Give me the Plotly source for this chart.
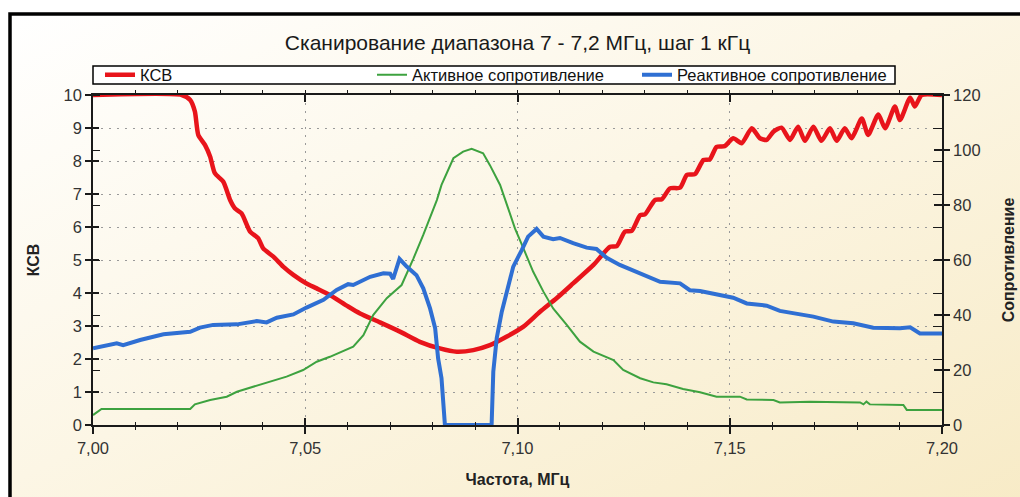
import base64
import plotly.graph_objects as go

# ---------------- data ----------------
F_KSV = [7.000, 7.0209, 7.0229, 7.0240, 7.0248, 7.0264, 7.0276, 7.0287, 7.0307, 7.0323,
         7.0334, 7.0350, 7.0370, 7.0389, 7.0401, 7.0425, 7.0448, 7.0472, 7.0503, 7.0527,
         7.0558, 7.0601, 7.0629, 7.0676, 7.0723, 7.0770, 7.0817, 7.0857, 7.0896, 7.0935,
         7.0975, 7.1014, 7.1053, 7.1092, 7.1131, 7.1179, 7.1218, 7.1234, 7.1253, 7.1269,
         7.1289, 7.1300, 7.1324, 7.1340, 7.1359, 7.1383, 7.1399, 7.1418, 7.1438, 7.1453,
         7.1469, 7.1488, 7.1508, 7.1528, 7.1552, 7.1571, 7.1587, 7.1603, 7.1622, 7.1642,
         7.1661, 7.1677, 7.1697, 7.1716, 7.1736, 7.1752, 7.1771, 7.1787, 7.1811, 7.1826,
         7.1850, 7.1866, 7.1889, 7.1901, 7.1925, 7.1936, 7.1952, 7.2000]
KSV = [10, 10, 9.85, 9.5, 8.79, 8.48, 8.13, 7.63, 7.37, 6.82,
       6.57, 6.41, 5.86, 5.66, 5.35, 5.10, 4.80, 4.55, 4.29, 4.14,
       3.94, 3.59, 3.38, 3.11, 2.83, 2.52, 2.32, 2.22, 2.27, 2.42,
       2.68, 2.98, 3.43, 3.84, 4.29, 4.85, 5.40, 5.42, 5.86, 5.88,
       6.36, 6.38, 6.82, 6.84, 7.17, 7.19, 7.58, 7.60, 8.03, 8.05,
       8.43, 8.45, 8.69, 8.54, 8.99, 8.69, 8.64, 8.89, 9.01, 8.64,
       9.04, 8.61, 9.04, 8.61, 8.99, 8.61, 8.99, 8.69, 9.29, 8.79,
       9.41, 8.99, 9.65, 9.24, 9.92, 9.65, 10, 10]

F_ACT = [7.000, 7.002, 7.0229, 7.024, 7.0276, 7.0315, 7.0339, 7.0378, 7.0417, 7.0456,
         7.0495, 7.0527, 7.0558, 7.0601, 7.0613, 7.0637, 7.066, 7.0692, 7.0727, 7.0755,
         7.0778, 7.081, 7.0821, 7.0849, 7.0872, 7.0892, 7.0919, 7.0935, 7.0959, 7.0978,
         7.0994, 7.1014, 7.1037, 7.1061, 7.1084, 7.1116, 7.1147, 7.1179, 7.121, 7.1226,
         7.1249, 7.1289, 7.132, 7.1351, 7.139, 7.143, 7.1469, 7.1524, 7.154, 7.1603,
         7.1618, 7.1689, 7.1807, 7.1815, 7.1822, 7.183, 7.1909, 7.1917, 7.200]
R_ACT = [3.6, 5.8, 5.8, 7.5, 9.1, 10.3, 12.1, 13.9, 15.8, 17.6,
         20.0, 23.0, 24.8, 27.6, 28.5, 32.7, 40.0, 46.1, 50.9, 60.6,
         69.1, 81.8, 87.3, 97.0, 99.4, 100.4, 98.8, 94.5, 87.3, 78.8,
         71.5, 64.2, 55.7, 48.5, 42.4, 36.4, 30.3, 26.7, 24.8, 23.6,
         20.0, 17.0, 15.5, 14.8, 13.1, 11.9, 10.3, 10.3, 9.3, 9.1,
         8.2, 8.5, 8.2, 7.5, 8.5, 7.5, 7.3, 5.5, 5.5]

F_REA = [7.000, 7.0056, 7.0071, 7.0111, 7.0166, 7.0229, 7.0252, 7.0283, 7.0339, 7.0386,
         7.0409, 7.0433, 7.0472, 7.0503, 7.0543, 7.0574, 7.0601, 7.0613, 7.0653, 7.0684,
         7.0700, 7.0707, 7.0722, 7.0739, 7.0762, 7.0778, 7.0794, 7.0806, 7.0813, 7.0821,
         7.0829, 7.0939, 7.0943, 7.0951, 7.0963, 7.0975, 7.099, 7.101, 7.1025, 7.1045,
         7.1061, 7.1084, 7.11, 7.1131, 7.1163, 7.1186, 7.121, 7.1241, 7.1289, 7.1336,
         7.1383, 7.1406, 7.143, 7.1469, 7.1508, 7.154, 7.1587, 7.1618, 7.1665, 7.1697,
         7.1744, 7.1791, 7.1838, 7.1901, 7.1925, 7.1948, 7.200]
R_REA = [27.9, 29.7, 29.0, 30.9, 33.0, 33.9, 35.4, 36.4, 36.6, 37.8,
         37.3, 39.0, 40.2, 42.7, 45.5, 49.1, 51.2, 50.9, 53.9, 55.2,
         55.0, 53.1, 60.4, 57.6, 54.5, 49.7, 42.4, 35.2, 24.2, 17.0,
         0, 0, 19.4, 31.5, 41.2, 48.5, 57.6, 63.6, 68.5, 71.3,
         68.5, 67.6, 68.0, 66.1, 64.5, 64.0, 60.8, 58.2, 55.2, 52.1,
         51.5, 49.0, 48.7, 47.5, 46.3, 44.2, 43.4, 41.5, 40.2, 39.4,
         37.6, 37.0, 35.4, 35.2, 35.5, 33.3, 33.3]

X_TICKS = [7.00, 7.05, 7.10, 7.15, 7.20]
KSV_TICKS = list(range(0, 11))
R_TICKS = [0, 20, 40, 60, 80, 100, 120]

TITLE = "Сканирование диапазона 7 - 7,2 МГц, шаг 1 кГц"
X_TITLE = "Частота, МГц"
Y1_TITLE = "КСВ"
Y2_TITLE = "Сопротивление"
NAMES = ["КСВ", "Активное сопротивление", "Реактивное сопротивление"]

# ---------------- styling ----------------
W, H = 1020, 497
ML, MR, MT, MB = 93, 78, 95, 72
PW, PH = W - ML - MR, H - MT - MB
FONT = "Liberation Sans"
RED, GREEN, BLUE = "#E8141B", "#3DA23F", "#2F6FD3"
AX = "#1a1a1a"
GRID = "#9a9a9a"
R_SCALE = R_TICKS[-1] / KSV_TICKS[-1]

svg = (
    f"<svg xmlns='http://www.w3.org/2000/svg' width='{W}' height='{H}'>"
    "<defs><linearGradient id='g' x1='0' y1='0' x2='1' y2='1'>"
    "<stop offset='0' stop-color='#FFFFFF'/>"
    "<stop offset='0.45' stop-color='#FCF6E5'/>"
    "<stop offset='1' stop-color='#F7EAC4'/>"
    "</linearGradient></defs>"
    f"<rect width='{W}' height='{H}' fill='#FFFFFF'/>"
    "<rect x='10' y='14' width='1040' height='520' fill='url(#g)' stroke='#000' stroke-width='3.5'/>"
    "</svg>"
)
bg_src = "data:image/svg+xml;base64," + base64.b64encode(svg.encode()).decode()

fig = go.Figure()
fig.add_trace(go.Scatter(x=F_KSV, y=KSV, name=NAMES[0], mode="lines",
                         line=dict(color=RED, width=4.5, shape="spline", smoothing=0.6),
                         yaxis="y", legend="legend"))
fig.add_trace(go.Scatter(x=F_ACT, y=R_ACT, name=NAMES[1], mode="lines",
                         line=dict(color=GREEN, width=2), yaxis="y2", legend="legend2"))
fig.add_trace(go.Scatter(x=F_REA, y=R_REA, name=NAMES[2], mode="lines",
                         line=dict(color=BLUE, width=4), yaxis="y2", legend="legend3"))
# invisible helpers so the tick-overlay axes get drawn
fig.add_trace(go.Scatter(x=F_KSV, y=KSV, mode="lines", opacity=0, showlegend=False,
                         hoverinfo="skip", xaxis="x2", yaxis="y3"))
fig.add_trace(go.Scatter(x=F_REA, y=R_REA, mode="lines", opacity=0, showlegend=False,
                         hoverinfo="skip", xaxis="x3", yaxis="y4"))

tickfont = dict(family=FONT, size=16.5, color="#333333")
titlefont = dict(family=FONT, size=16, color="#222222", weight="bold")
xr = [X_TICKS[0], X_TICKS[-1]]
y1r = [KSV_TICKS[0], KSV_TICKS[-1]]
y2r = [R_TICKS[0], R_TICKS[-1]]
minor_x = dict(dtick=0.01, tick0=X_TICKS[0], ticklen=3, tickwidth=1.3, tickcolor=AX, showgrid=False)

fig.update_layout(
    width=W, height=H,
    margin=dict(l=ML, r=MR, t=MT, b=MB, autoexpand=False),
    paper_bgcolor="#FFFFFF", plot_bgcolor="rgba(0,0,0,0)",
    separators=", ",
    font=dict(family=FONT, color="#222222"),
    title=dict(text=TITLE, font=dict(family=FONT, size=21, color="#1a1a1a"),
               x=0.5, xref="paper", xanchor="center", y=1 - 43 / H, yanchor="middle"),
    images=[dict(source=bg_src, xref="paper", yref="paper", x=-ML / PW, y=1 + MT / PH,
                 sizex=W / PW, sizey=H / PH, xanchor="left", yanchor="top",
                 sizing="stretch", layer="below")],
    xaxis=dict(range=xr, tickvals=X_TICKS, tickformat=".2f", ticks="outside", ticklen=7,
               tickwidth=1.5, tickcolor=AX, showline=True, linecolor=AX, linewidth=1.5,
               mirror=True, showgrid=True, gridcolor=GRID, gridwidth=1.3, griddash="2px,6px",
               zeroline=False, tickfont=tickfont,
               minor=dict(ticks="outside", **minor_x),
               title=dict(text=X_TITLE, font=titlefont, standoff=18)),
    xaxis2=dict(range=xr, overlaying="x", anchor="y", side="bottom", tickvals=X_TICKS,
                ticks="inside", ticklen=7, tickwidth=1.5, tickcolor=AX, showticklabels=False,
                showline=False, showgrid=False, zeroline=False,
                minor=dict(ticks="inside", **minor_x)),
    xaxis3=dict(range=xr, overlaying="x", anchor="y", side="top", tickvals=X_TICKS,
                ticks="inside", ticklen=7, tickwidth=1.5, tickcolor=AX, showticklabels=False,
                showline=False, showgrid=False, zeroline=False,
                minor=dict(ticks="outside", dtick=0.01, tick0=X_TICKS[0], ticklen=4,
                           tickwidth=1.3, tickcolor=AX, showgrid=False)),
    yaxis=dict(range=y1r, tickvals=KSV_TICKS, ticks="outside", ticklen=6, tickwidth=1.5,
               tickcolor=AX, showline=True, linecolor=AX, linewidth=1.5, showgrid=True,
               gridcolor=GRID, gridwidth=1.3, griddash="2px,6px", zeroline=False,
               tickfont=tickfont,
               minor=dict(ticks="inside", tickvals=[r / R_SCALE for r in R_TICKS], ticklen=7,
                          tickwidth=1.3, tickcolor=AX, showgrid=False),
               title=dict(text=Y1_TITLE, font=titlefont, standoff=20)),
    yaxis2=dict(range=y2r, overlaying="y", side="right", anchor="x", tickvals=R_TICKS,
                ticks="outside", ticklen=6, tickwidth=1.5, tickcolor=AX, showline=True,
                linecolor=AX, linewidth=1.5, showgrid=False, zeroline=False, tickfont=tickfont,
                minor=dict(ticks="inside", tickvals=[k * R_SCALE for k in KSV_TICKS], ticklen=9,
                           tickwidth=1.3, tickcolor=AX, showgrid=False),
                title=dict(text=Y2_TITLE, font=titlefont, standoff=23)),
    yaxis3=dict(range=y1r, overlaying="y", side="left", anchor="x", tickvals=KSV_TICKS,
                ticks="inside", ticklen=6, tickwidth=1.5, tickcolor=AX, showticklabels=False,
                showline=False, showgrid=False, zeroline=False),
    yaxis4=dict(range=y2r, overlaying="y", side="right", anchor="x", tickvals=R_TICKS,
                ticks="inside", ticklen=8, tickwidth=1.5, tickcolor=AX, showticklabels=False,
                showline=False, showgrid=False, zeroline=False),
    shapes=[dict(type="rect", xref="paper", yref="paper", x0=0, x1=(895 - ML) / PW,
                 y0=(H - MB - 84) / PH, y1=(H - MB - 66) / PH,
                 fillcolor="#FFFFFF", line=dict(color="#000000", width=1.5), layer="above")],
)

leg_common = dict(orientation="h", yanchor="middle", y=(H - MB - 75) / PH, xanchor="left",
                  bgcolor="rgba(0,0,0,0)", borderwidth=0,
                  font=dict(family=FONT, size=16.5, color="#111111"))
fig.update_layout(
    legend=dict(x=(100 - ML) / PW, **leg_common),
    legend2=dict(x=(372 - ML) / PW, **leg_common),
    legend3=dict(x=(637 - ML) / PW, **leg_common),
)

fig.write_html("out.html", config={"displayModeBar": False},
               post_script="document.body.style.margin='0';document.body.style.overflow='hidden';")
